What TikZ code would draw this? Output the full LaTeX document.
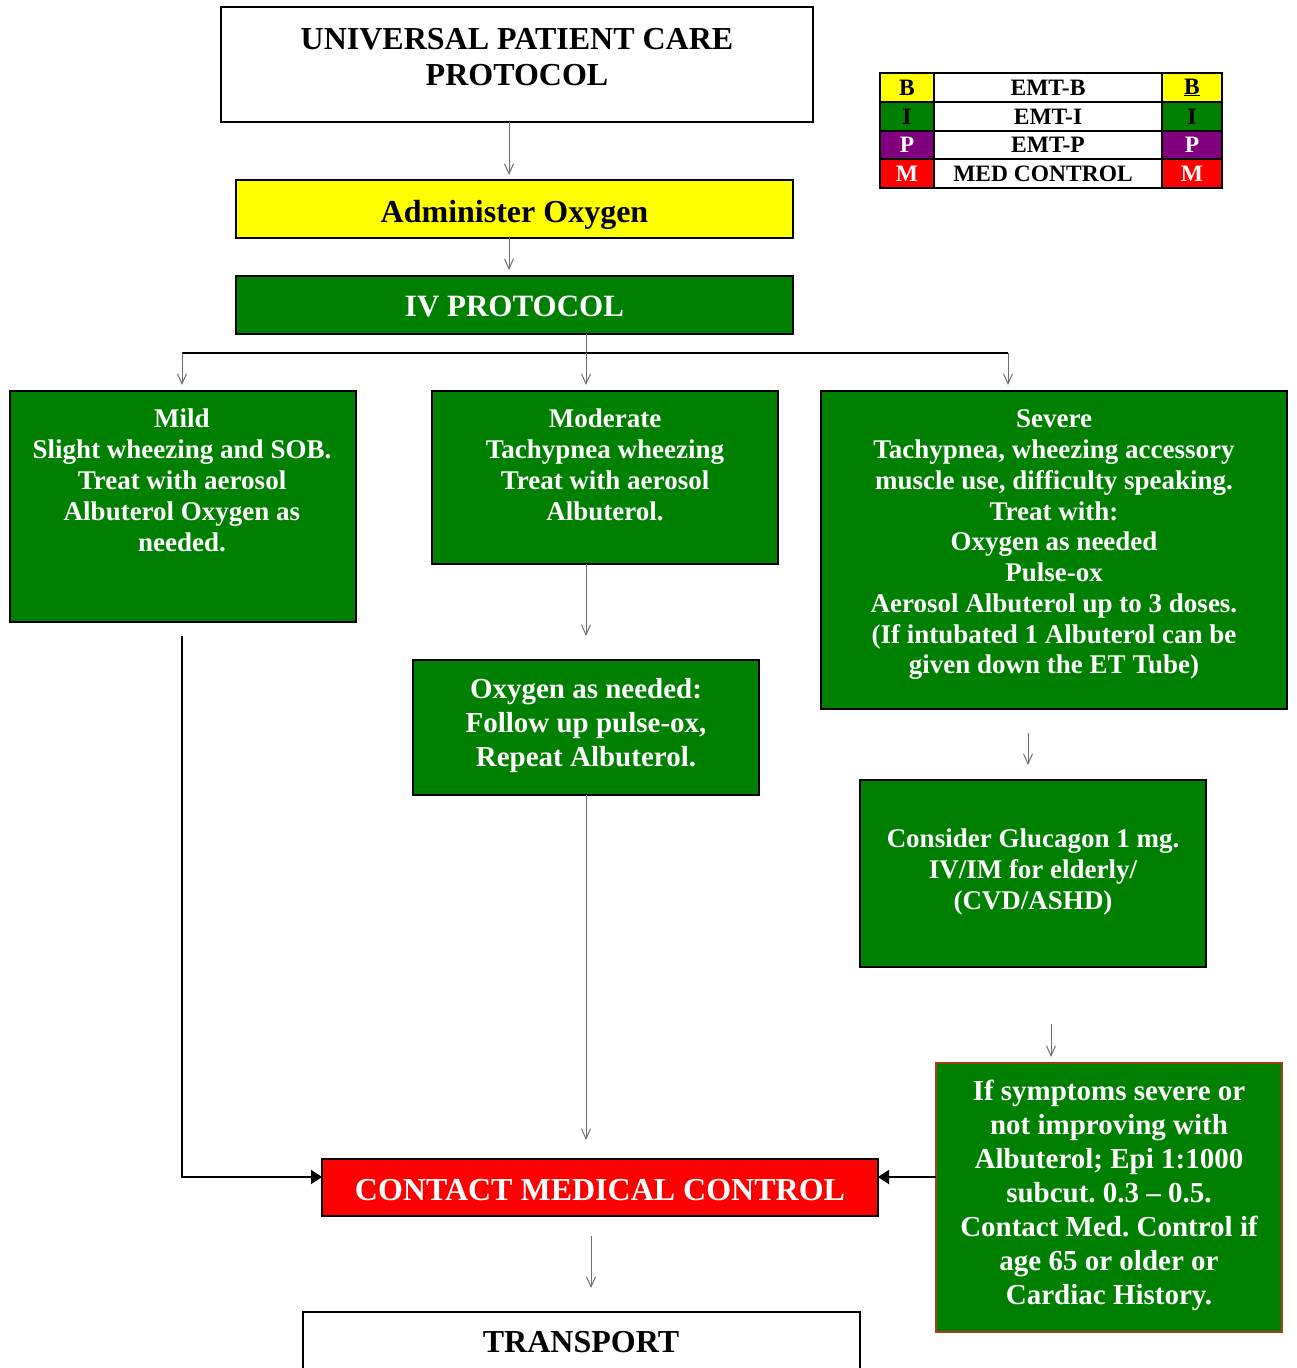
\documentclass[tikz,border=0pt]{standalone}
\usepackage{fontspec}
\setmainfont{Liberation Serif}
\usetikzlibrary{arrows.meta,calc}
\definecolor{gr}{RGB}{0,128,0}
\definecolor{yl}{RGB}{255,255,0}
\definecolor{pu}{RGB}{128,0,128}
\definecolor{rd}{RGB}{255,0,0}
\definecolor{brn}{RGB}{165,62,25}
\definecolor{arrgray}{RGB}{110,110,110}
\newcommand\myfs[2]{\fontsize{#1}{#2}\selectfont\bfseries\frenchspacing}
\begin{document}
\begin{tikzpicture}[x=1pt,y=-1pt,
 box/.style={draw=black,line width=2pt,inner sep=0pt,outer sep=0pt,rectangle},
 gbox/.style={box,fill=gr},
 wtxt/.style={text=white,align=center,inner sep=0pt},
 btxt/.style={text=black,align=center,inner sep=0pt},
 tarr/.style={draw=arrgray,line width=1pt,-{Straight Barb[length=10pt,width=9pt]}},
 gline/.style={draw=arrgray,line width=1pt},
 karr/.style={draw=black,line width=2pt,-{Triangle[length=11pt,width=14pt]}},
 cell/.style={draw=black,line width=2pt,inner sep=0pt,outer sep=0pt,minimum height=29pt,font=\myfs{23.5}{26}},
]
\useasboundingbox (0,0) rectangle (1296,1368);
% boxes
\node[box,fill=white,minimum width=592,minimum height=115] (title) at (517,64.5) {};
\node[btxt,font=\myfs{32}{36}] (titleT) at (517,57) {UNIVERSAL PATIENT CARE\\PROTOCOL};
\node[box,fill=yl,minimum width=557,minimum height=58] (admin) at (514.5,209) {};
\node[btxt,font=\myfs{32}{36}] (adminT) at (514.5,215) {Administer Oxygen};
\node[gbox,minimum width=557,minimum height=58] (iv) at (514.5,305) {};
\node[wtxt,font=\myfs{31}{36}] (ivT) at (514.5,306) {IV PROTOCOL};
\node[gbox,minimum width=346,minimum height=231] (mild) at (183,506.5) {};
\node[wtxt,font=\myfs{27}{31}] (mildT) at (182,480) {Mild\\Slight wheezing and SOB.\\Treat with aerosol\\Albuterol Oxygen as\\needed.};
\node[gbox,minimum width=346,minimum height=173] (moderate) at (605,477.5) {};
\node[wtxt,font=\myfs{27}{31}] (moderateT) at (605,464.5) {Moderate\\Tachypnea wheezing\\Treat with aerosol\\Albuterol.};
\node[gbox,minimum width=466,minimum height=318] (severe) at (1054,550) {};
\node[wtxt,font=\myfs{27}{30.75}] (severeT) at (1054,545) {Severe\\Tachypnea, wheezing accessory\\muscle use, difficulty speaking.\\Treat with:\\Oxygen as needed\\Pulse-ox\\Aerosol Albuterol up to 3 doses.\\(If intubated 1 Albuterol can be\\given down the ET Tube)};
\node[gbox,minimum width=346,minimum height=135] (oxygen) at (586,727.5) {};
\node[wtxt,font=\myfs{29}{34}] (oxygenT) at (586,726) {Oxygen as needed:\\Follow up pulse-ox,\\Repeat Albuterol.};
\node[gbox,minimum width=346,minimum height=187] (gluc) at (1033,873.5) {};
\node[wtxt,font=\myfs{27}{31}] (glucT) at (1033,871.5) {Consider Glucagon 1 mg.\\IV/IM for elderly/\\(CVD/ASHD)};
\node[box,draw=brn,fill=gr,minimum width=346,minimum height=269] (final) at (1109,1197.5) {};
\node[wtxt,font=\myfs{29}{34}] (finalT) at (1109,1195) {If symptoms severe or\\not improving with\\Albuterol; Epi 1:1000\\subcut. 0.3 – 0.5.\\Contact Med. Control if\\age 65 or older or\\Cardiac History.};
\node[box,fill=rd,minimum width=556,minimum height=57] (contact) at (600,1187.5) {};
\node[wtxt,font=\myfs{32}{36}] (contactT) at (600,1190.5) {CONTACT MEDICAL CONTROL};
\node[box,fill=white,minimum width=557,minimum height=68] (transport) at (581.5,1346) {};
\node[btxt,font=\myfs{32}{36}] (transportT) at (581,1342) {TRANSPORT};
% legend
\node[cell,fill=yl,minimum width=54] (l1a) at (907,87.5) {B};
\node[cell,fill=white,minimum width=228] (l1b) at (1048,87.5) {EMT-B};
\node[cell,fill=yl,minimum width=60] (l1c) at (1192,87.5) {\underline{B}};
\node[cell,fill=gr,minimum width=54] (l2a) at (907,116.5) {I};
\node[cell,fill=white,minimum width=228] (l2b) at (1048,116.5) {EMT-I};
\node[cell,fill=gr,minimum width=60] (l2c) at (1192,116.5) {I};
\node[cell,fill=pu,text=white,minimum width=54,minimum height=28] (l3a) at (907,145) {P};
\node[cell,fill=white,minimum width=228,minimum height=28] (l3b) at (1048,145) {EMT-P};
\node[cell,fill=pu,text=white,minimum width=60,minimum height=28] (l3c) at (1192,145) {P};
\node[cell,fill=rd,text=white,minimum width=54] (l4a) at (907,173.5) {M};
\node[cell,fill=white,minimum width=228] (l4b) at (1048,173.5) {MED CONTROL\hspace*{10pt}};
\node[cell,fill=rd,text=white,minimum width=60] (l4c) at (1192,173.5) {M};
% coordinates
\coordinate (xa) at (509,0);
\coordinate (xm) at (586,0);
\coordinate (xl) at (182,0);
\coordinate (xs) at (1028,0);
\coordinate (xg) at (1051,0);
\coordinate (xc) at (591,0);
\coordinate (brL) at (182,353);
\coordinate (brM) at (586,353);
\coordinate (brR) at (1008,353);
\coordinate (cw) at ([yshift=10.5pt]contact.west);
\coordinate (ce) at ([yshift=10.5pt]contact.east);
% connectors
\draw[tarr,shorten >=5pt] (title.south -| xa) -- (admin.north -| xa);
\draw[tarr,shorten >=6pt] (admin.south -| xa) -- (iv.north -| xa);
\draw[gline] (iv.south -| xm) -- (brM);
\draw[line width=2pt] (brL) -- (brR);
\draw[tarr,shorten >=6pt] (brL) -- (mild.north -| brL);
\draw[tarr,shorten >=6pt] (brM) -- (moderate.north -| brM);
\draw[tarr,shorten >=6pt] (brR) -- (severe.north -| brR);
\draw[tarr,shorten >=24pt] (moderate.south -| xm) -- (oxygen.north -| xm);
\draw[tarr,shorten >=19pt] (oxygen.south -| xm) -- (contact.north -| xm);
\draw[tarr,shorten <=24pt,shorten >=15pt] (severe.south -| xs) -- (gluc.north -| xs);
\draw[tarr,shorten <=57pt,shorten >=6pt] (gluc.south -| xg) -- (final.north -| xg);
\draw[tarr,shorten <=20pt,shorten >=24pt] (contact.south -| xc) -- (transport.north -| xc);
\draw[karr,shorten <=14pt] (mild.south -| xl) |- (cw);
\draw[karr] (final.west |- ce) -- (ce);
\end{tikzpicture}
\end{document}
